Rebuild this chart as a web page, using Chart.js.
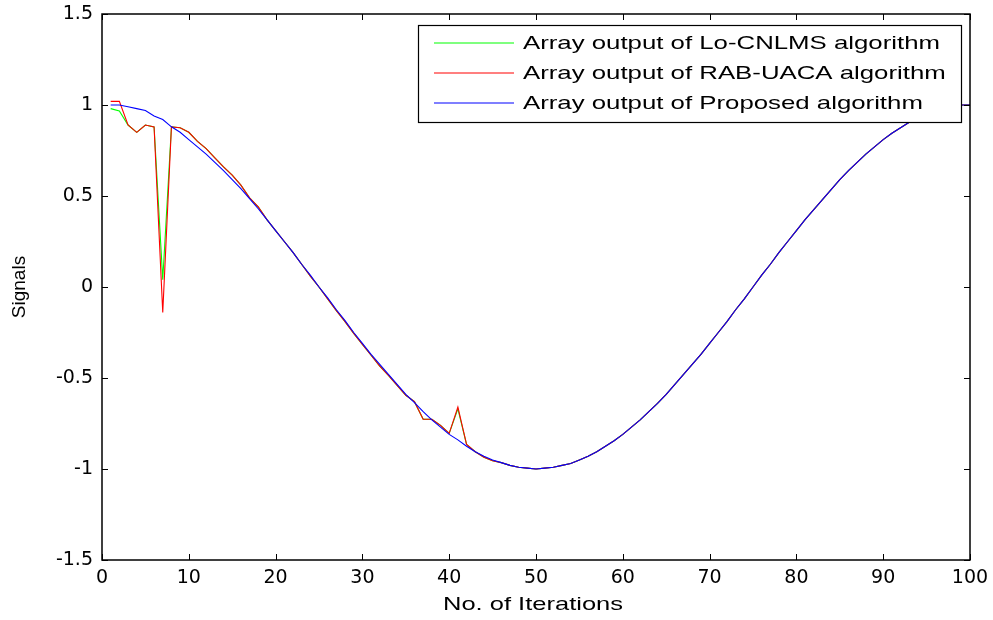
<!DOCTYPE html>
<html>
<head>
<meta charset="utf-8">
<script src="https://cdn.jsdelivr.net/npm/chart.js@4"></script>
<style>
  html, body { margin: 0; padding: 0; background: #fff; }
  #wrap { width: 993px; height: 620px; }
</style>
</head>
<body>
<div id="wrap"><canvas id="signals-chart" width="993" height="620"></canvas></div>
<script>
// Data (iterations 1..100)
const iterations = Array.from({ length: 100 }, (_, i) => i + 1);

const proposedOut = [
  1.00, 1.00, 0.99, 0.98, 0.97, 0.94, 0.92, 0.88, 0.85, 0.81,
  0.77, 0.73, 0.685, 0.64, 0.59, 0.54, 0.485, 0.43, 0.37, 0.31,
  0.25, 0.19, 0.125, 0.065, 0.00, -0.06, -0.125, -0.185, -0.25, -0.31,
  -0.37, -0.425, -0.48, -0.535, -0.59, -0.635, -0.685, -0.73, -0.77, -0.81,
  -0.84, -0.875, -0.905, -0.93, -0.95, -0.965, -0.98, -0.99, -0.995, -1.00,
  -0.995, -0.99, -0.98, -0.97, -0.95, -0.93, -0.905, -0.875, -0.845, -0.81,
  -0.77, -0.73, -0.685, -0.64, -0.59, -0.535, -0.48, -0.425, -0.37, -0.31,
  -0.25, -0.19, -0.125, -0.065, 0.00, 0.065, 0.125, 0.19, 0.25, 0.31,
  0.37, 0.425, 0.48, 0.535, 0.59, 0.64, 0.685, 0.73, 0.77, 0.81,
  0.845, 0.875, 0.905, 0.93, 0.95, 0.97, 0.98, 0.99, 1.00, 1.00
];

const rabUacaOut = [
  1.02, 1.02, 0.89, 0.85, 0.89, 0.88, -0.14, 0.88, 0.875, 0.85,
  0.80, 0.76, 0.71, 0.66, 0.615, 0.56, 0.49, 0.44, 0.37, 0.31,
  0.25, 0.19, 0.125, 0.06, 0.00, -0.065, -0.13, -0.19, -0.255, -0.315,
  -0.375, -0.435, -0.485, -0.54, -0.595, -0.63, -0.727, -0.727, -0.76, -0.804,
  -0.66, -0.865, -0.905, -0.935, -0.955, -0.965, -0.98, -0.99, -0.995, -1.00,
  -0.995, -0.99, -0.98, -0.97, -0.95, -0.93, -0.905, -0.875, -0.845, -0.81,
  -0.77, -0.73, -0.685, -0.64, -0.59, -0.535, -0.48, -0.425, -0.37, -0.31,
  -0.25, -0.19, -0.125, -0.065, 0.00, 0.065, 0.125, 0.19, 0.25, 0.31,
  0.37, 0.425, 0.48, 0.535, 0.59, 0.64, 0.685, 0.73, 0.77, 0.81,
  0.845, 0.875, 0.905, 0.93, 0.95, 0.97, 0.98, 0.99, 1.00, 1.00
];

const loCnlmsOut = [
  0.98, 0.967, 0.89, 0.85, 0.89, 0.88, 0.04, 0.88, 0.875, 0.85,
  0.80, 0.76, 0.71, 0.66, 0.615, 0.56, 0.49, 0.44, 0.37, 0.31,
  0.25, 0.19, 0.125, 0.06, 0.00, -0.065, -0.13, -0.19, -0.255, -0.315,
  -0.375, -0.435, -0.485, -0.54, -0.595, -0.63, -0.727, -0.727, -0.76, -0.804,
  -0.67, -0.865, -0.905, -0.935, -0.955, -0.965, -0.98, -0.99, -0.995, -1.00,
  -0.995, -0.99, -0.98, -0.97, -0.95, -0.93, -0.905, -0.875, -0.845, -0.81,
  -0.77, -0.73, -0.685, -0.64, -0.59, -0.535, -0.48, -0.425, -0.37, -0.31,
  -0.25, -0.19, -0.125, -0.065, 0.00, 0.065, 0.125, 0.19, 0.25, 0.31,
  0.37, 0.425, 0.48, 0.535, 0.59, 0.64, 0.685, 0.73, 0.77, 0.81,
  0.845, 0.875, 0.905, 0.93, 0.95, 0.97, 0.98, 0.99, 1.00, 1.00
];

const seriesLabels = [
  'Array output of Lo-CNLMS algorithm',
  'Array output of RAB-UACA algorithm',
  'Array output of Proposed algorithm'
];
const seriesColors = ['#00ff00', '#ff0000', '#0000ff'];

const xTicks = [0, 10, 20, 30, 40, 50, 60, 70, 80, 90, 100];
const yTicks = [-1.5, -1, -0.5, 0, 0.5, 1, 1.5];

const FONT = 'Arial, "Liberation Sans", sans-serif';
const TICK_FONT = '"DejaVu Sans", Arial, sans-serif';

function toPoints(values) {
  return values.map((v, i) => ({ x: iterations[i], y: v }));
}

// draw text squeezed/stretched horizontally to a given width
function fillTextWidth(ctx, text, x, y, width, align) {
  const w = ctx.measureText(text).width;
  const sx = width / w;
  ctx.save();
  ctx.translate(x, y);
  ctx.scale(sx, 1);
  ctx.textAlign = align;
  ctx.fillText(text, 0, 0);
  ctx.restore();
}

// MATLAB style inward ticks on all four sides of the box
const boxTicks = {
  id: 'boxTicks',
  afterDatasetsDraw(chart) {
    const { ctx, chartArea: a, scales } = chart;
    const len = 6;
    ctx.save();
    ctx.strokeStyle = '#000';
    ctx.lineWidth = 1;
    ctx.beginPath();
    xTicks.forEach(t => {
      const px = Math.round(scales.x.getPixelForValue(t)) + 0.5;
      ctx.moveTo(px, a.bottom); ctx.lineTo(px, a.bottom - len);
      ctx.moveTo(px, a.top); ctx.lineTo(px, a.top + len);
    });
    yTicks.forEach(t => {
      const py = Math.round(scales.y.getPixelForValue(t)) + 0.5;
      ctx.moveTo(a.left, py); ctx.lineTo(a.left + len, py);
      ctx.moveTo(a.right, py); ctx.lineTo(a.right - len, py);
    });
    ctx.stroke();
    ctx.lineWidth = 1.5;
    ctx.strokeRect(a.left, a.top, a.right - a.left, a.bottom - a.top);
    ctx.restore();
  }
};

// Legend box inside the plot + x axis title (reference text is wide)
const boxLegend = {
  id: 'boxLegend',
  afterDraw(chart) {
    const { ctx, chartArea: a } = chart;
    const left = 418, top = 25, right = 961, bottom = 122;
    ctx.save();
    ctx.fillStyle = '#fff';
    ctx.fillRect(left, top, right - left, bottom - top);
    ctx.strokeStyle = '#000';
    ctx.lineWidth = 1.2;
    ctx.strokeRect(left + 0.5, top + 0.5, right - left, bottom - top);
    ctx.font = '19px ' + FONT;
    ctx.textBaseline = 'middle';
    const sx = 417 / ctx.measureText(seriesLabels[0]).width;
    chart.data.datasets.forEach((ds, i) => {
      const y = 43 + i * 30;
      ctx.strokeStyle = ds.borderColor;
      ctx.lineWidth = 1.2;
      ctx.beginPath();
      ctx.moveTo(434, y);
      ctx.lineTo(514, y);
      ctx.stroke();
      ctx.fillStyle = '#000';
      const w = ctx.measureText(ds.label).width * sx;
      fillTextWidth(ctx, ds.label, 523, y + 1, w, 'left');
    });

    ctx.font = '19px ' + FONT;
    ctx.fillStyle = '#000';
    ctx.textBaseline = 'middle';
    fillTextWidth(ctx, 'No. of Iterations', (a.left + a.right) / 2 - 3, 605, 180, 'center');
    ctx.restore();
  }
};

const ctx = document.getElementById('signals-chart').getContext('2d');
new Chart(ctx, {
  type: 'line',
  data: {
    datasets: [loCnlmsOut, rabUacaOut, proposedOut].map((vals, i) => ({
      label: seriesLabels[i],
      data: toPoints(vals),
      borderColor: seriesColors[i],
      backgroundColor: seriesColors[i],
      borderWidth: 1.1,
      pointRadius: 0,
      tension: 0,
      fill: false,
      order: 2 - i
    }))
  },
  options: {
    responsive: false,
    animation: false,
    layout: { padding: { top: 14, right: 23, left: 0, bottom: 0 } },
    plugins: {
      legend: { display: false },
      tooltip: { enabled: false }
    },
    scales: {
      x: {
        type: 'linear',
        min: 0,
        max: 100,
        afterBuildTicks: s => { s.ticks = xTicks.map(v => ({ value: v })); },
        afterFit: s => { s.height = 60; s.paddingLeft = 0; s.paddingRight = 0; },
        grid: { display: false, drawTicks: false },
        border: { display: false },
        ticks: {
          color: '#000',
          padding: 7,
          maxRotation: 0,
          font: { family: TICK_FONT, size: 19 }
        },
        title: { display: false }
      },
      y: {
        type: 'linear',
        min: -1.5,
        max: 1.5,
        afterBuildTicks: s => { s.ticks = yTicks.map(v => ({ value: v })); },
        afterFit: s => { s.width = 102; s.paddingTop = 0; s.paddingBottom = 0; },
        grid: { display: false, drawTicks: false },
        border: { display: false },
        ticks: {
          color: '#000',
          padding: 9,
          font: { family: TICK_FONT, size: 19 },
          callback: v => String(v)
        },
        title: {
          display: true,
          text: 'Signals',
          color: '#000',
          padding: { top: 8, bottom: 0 },
          font: { family: FONT, size: 19 }
        }
      }
    }
  },
  plugins: [boxTicks, boxLegend]
});
</script>
</body>
</html>
